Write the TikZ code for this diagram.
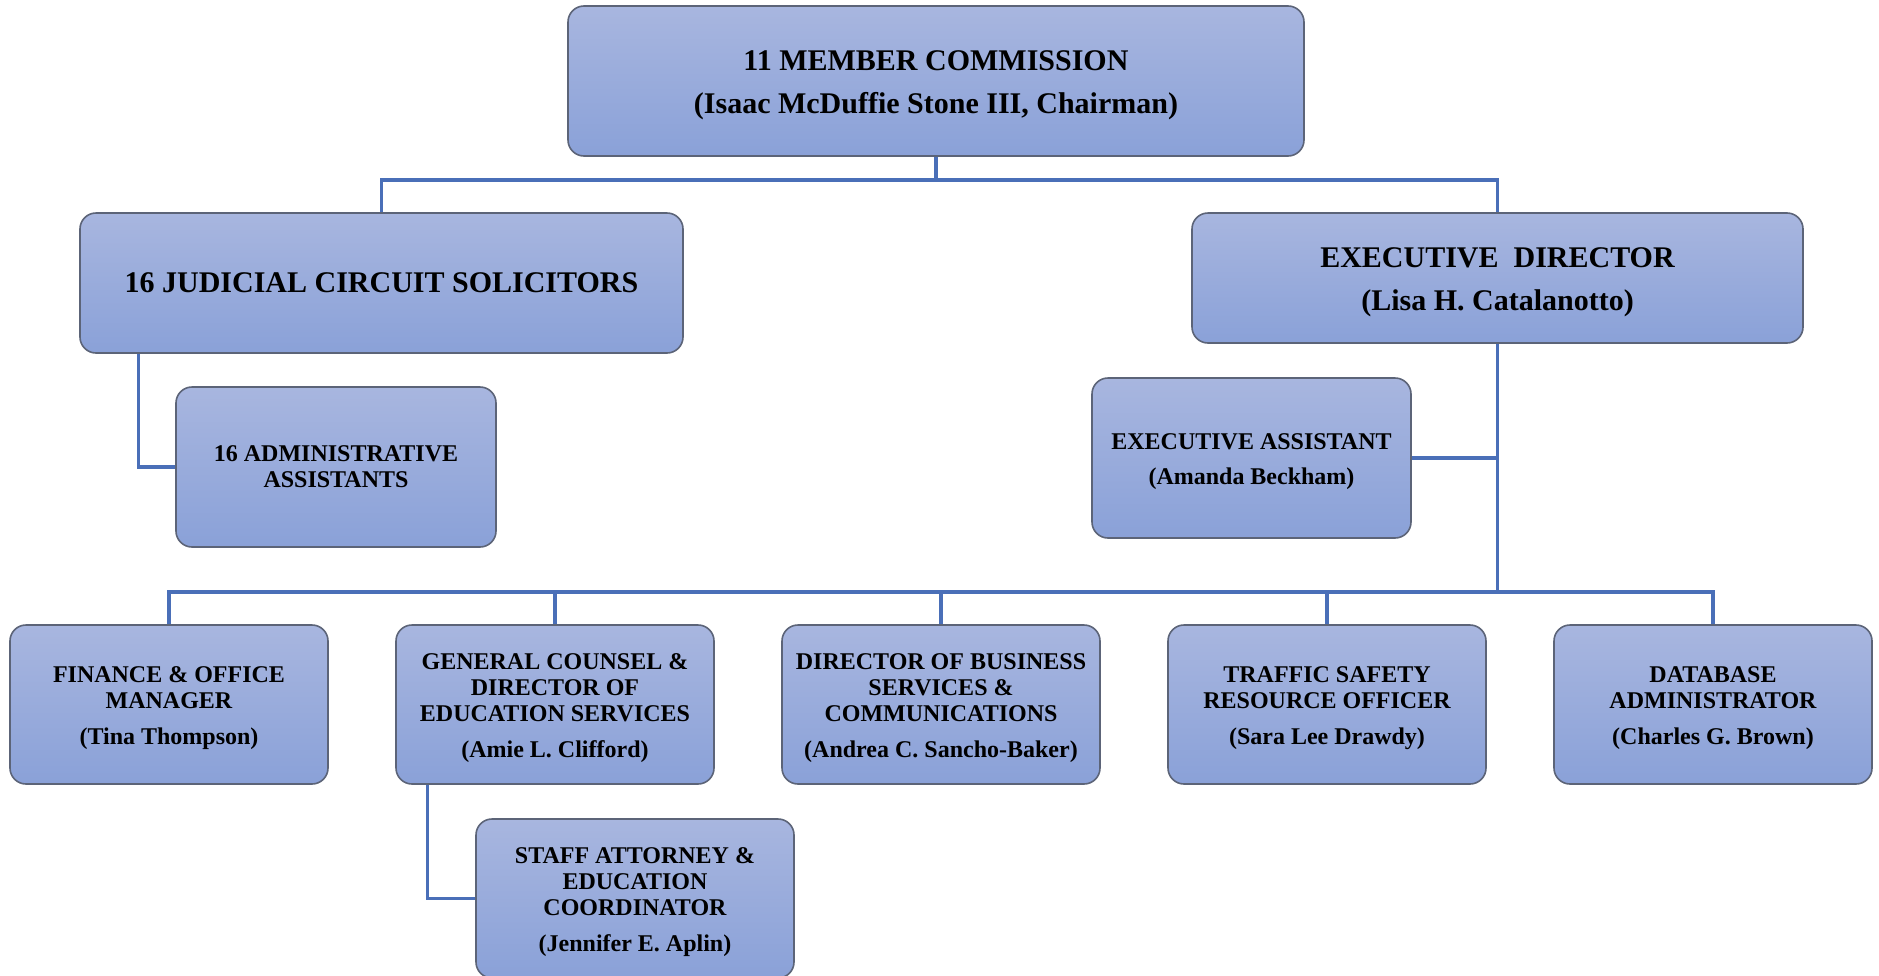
\documentclass[tikz,border=0pt]{standalone}
\usepackage{fontspec}
\setmainfont{Liberation Serif}
\definecolor{boxtop}{HTML}{A8B6DF}
\definecolor{boxbot}{HTML}{8AA1D8}
\definecolor{boxedge}{HTML}{5C6478}
\definecolor{conn}{HTML}{4A6FB8}
\newcommand\myfirstup{\rule{0pt}{0.97em}}
\tikzset{
  orgbox/.style={draw=boxedge, line width=0.8pt, rounded corners=8pt,
    top color=boxtop, bottom color=boxbot, align=center, inner sep=0pt,
    font=\bfseries\fontsize{12}{12.9}\selectfont},
  bigbox/.style={orgbox, font=\bfseries\fontsize{15}{21.5}\selectfont},
  smallbox/.style={orgbox, minimum width=159pt, minimum height=79.5pt},
  link/.style={draw=conn, line width=1.6pt}
}
\begin{document}
\begin{tikzpicture}[x=0.5pt, y=-0.5pt]
\useasboundingbox (0,0) rectangle (1879,975);
\begin{scope}
\clip (0,0) rectangle (1879,975);
% top level
\node[bigbox, minimum width=368pt, minimum height=75pt] (top) at (936,81)
  {\myfirstup 11 MEMBER COMMISSION\\(Isaac McDuffie Stone III, Chairman)};
\node[bigbox, minimum width=301.5pt, minimum height=70pt] (jud) at (381.5,283)
  {16 JUDICIAL CIRCUIT SOLICITORS};
\node[bigbox, minimum width=305.5pt, minimum height=65pt] (exd) at (1497.5,278)
  {\myfirstup EXECUTIVE\ \ DIRECTOR\\(Lisa H. Catalanotto)};
\node[smallbox, minimum width=160pt, minimum height=80pt] (adm) at (336,467)
  {16 ADMINISTRATIVE\\ASSISTANTS};
\node[smallbox, minimum width=159.5pt, minimum height=80pt] (exa) at (1251.5,458)
  {\myfirstup EXECUTIVE ASSISTANT\\[5pt](Amanda Beckham)};
% bottom row
\node[smallbox] (fin) at (169,704.5)
  {\myfirstup FINANCE \& OFFICE\\MANAGER\\[5pt](Tina Thompson)};
\node[smallbox] (gc) at (555,704.5)
  {\myfirstup GENERAL COUNSEL \&\\DIRECTOR OF\\EDUCATION SERVICES\\[5pt](Amie L. Clifford)};
\node[smallbox] (dbs) at (941,704.5)
  {\myfirstup DIRECTOR OF BUSINESS\\SERVICES \&\\COMMUNICATIONS\\[5pt](Andrea C. Sancho-Baker)};
\node[smallbox] (tso) at (1327,704.5)
  {\myfirstup TRAFFIC SAFETY\\RESOURCE OFFICER\\[5pt](Sara Lee Drawdy)};
\node[smallbox] (dba) at (1713,704.5)
  {\myfirstup DATABASE\\ADMINISTRATOR\\[5pt](Charles G. Brown)};
\node[smallbox] (sta) at (635,898.5)
  {\myfirstup STAFF ATTORNEY \&\\EDUCATION\\COORDINATOR\\[5pt](Jennifer E. Aplin)};
% connectors
\coordinate (b1) at (936,180);
\coordinate (b2) at (1497.5,592);
\draw[link] (top.south) -- (b1);
\draw[link] (b1) -| (jud.north);
\draw[link] (b1) -| (exd.north);
\draw[link] ([xshift=29.5pt]jud.south west) |- (adm.west);
\draw[link] (exd.south) -- (b2);
\draw[link] (exa.east) -- (exa.east -| exd.south);
\draw[link] (b2) -| (fin.north);
\draw[link] (b2) -| (gc.north);
\draw[link] (b2) -| (dbs.north);
\draw[link] (b2) -| (tso.north);
\draw[link] (b2) -| (dba.north);
\draw[link] ([xshift=16pt]gc.south west) |- (sta.west);
\end{scope}
\end{tikzpicture}
\end{document}
